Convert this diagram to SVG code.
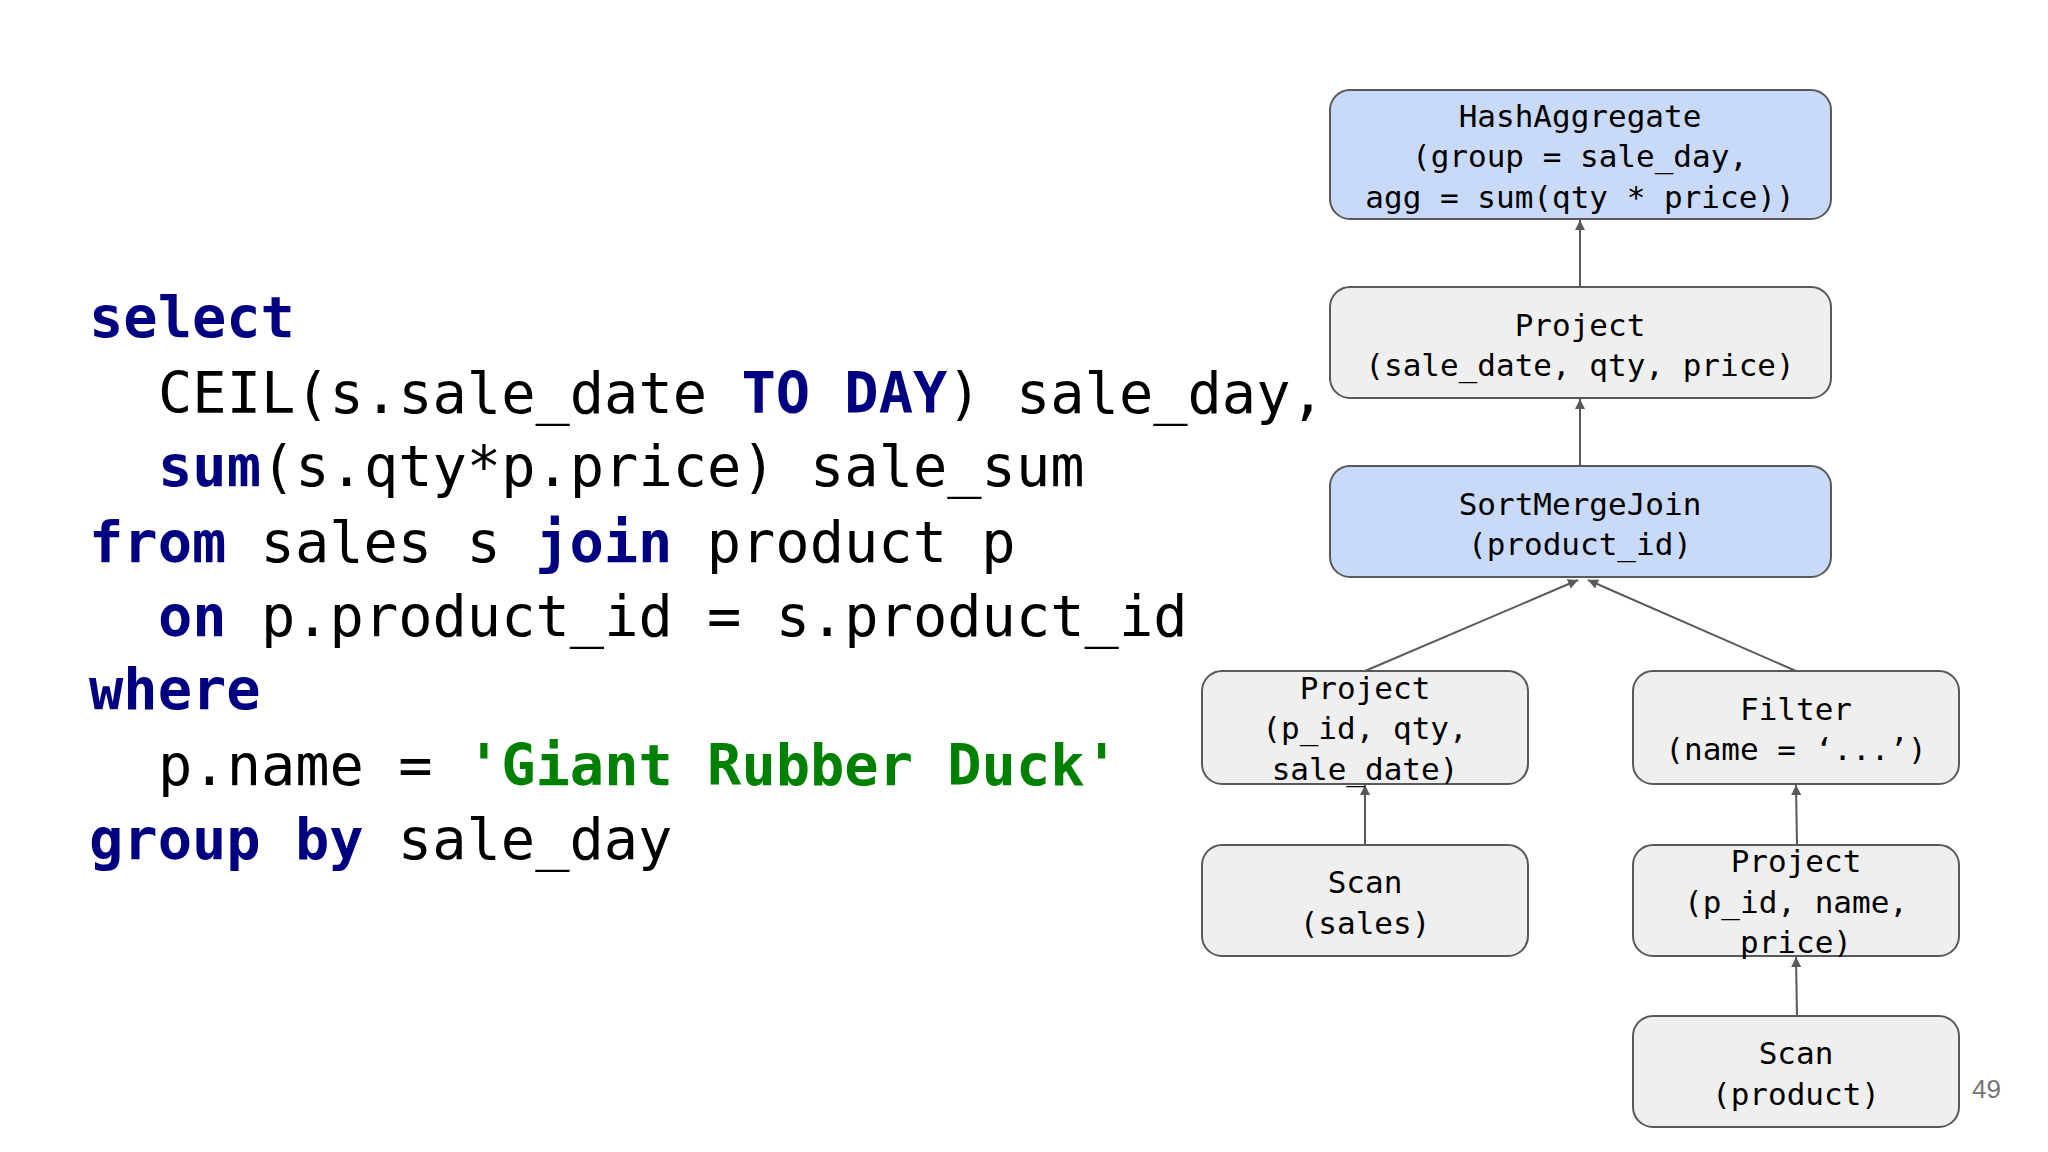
<svg xmlns="http://www.w3.org/2000/svg" width="2048" height="1152" viewBox="0 0 2048 1152">
<style>
.code{font-family:"DejaVu Sans Mono","Liberation Mono",monospace;font-size:57px;fill:#000}
.kw{fill:#000080;font-weight:bold}
.str{fill:#008000;font-weight:bold}
.box{stroke:#595959;stroke-width:2}
.blue{fill:#c9daf8}
.grey{fill:#efefef}
.nt{font-family:"DejaVu Sans Mono","Liberation Mono",monospace;font-size:31px;fill:#000;text-anchor:middle}
.edge{stroke:#595959;stroke-width:2;fill:none;marker-end:url(#ah)}
</style>
<defs><marker id="ah" viewBox="0 0 10 10" refX="10" refY="5" markerWidth="5" markerHeight="5" orient="auto"><path d="M0,0L10,5L0,10z" fill="#595959"/></marker></defs>
<rect width="2048" height="1152" fill="#fff"/>
<g id="code">
<text class="code" x="89" y="337"><tspan class="kw">select</tspan></text>
<text class="code" x="158" y="413" xml:space="preserve">CEIL(s.sale_date <tspan class="kw">TO DAY</tspan>) sale_day,</text>
<text class="code" x="158" y="486"><tspan class="kw">sum</tspan>(s.qty*p.price) sale_sum</text>
<text class="code" x="89" y="562" xml:space="preserve"><tspan class="kw">from</tspan> sales s <tspan class="kw">join</tspan> product p</text>
<text class="code" x="158" y="636" xml:space="preserve"><tspan class="kw">on</tspan> p.product_id = s.product_id</text>
<text class="code" x="89" y="709"><tspan class="kw">where</tspan></text>
<text class="code" x="158" y="785" xml:space="preserve">p.name = <tspan class="str">'Giant Rubber Duck'</tspan></text>
<text class="code" x="89" y="859" xml:space="preserve"><tspan class="kw">group by</tspan> sale_day</text>
</g>
<g id="connectors">
<path class="edge" d="M1580 287V220"/>
<path class="edge" d="M1580 466V399"/>
<path class="edge" d="M1365 671L1578 580"/>
<path class="edge" d="M1796 671L1588 580"/>
<path class="edge" d="M1365 845V785"/>
<path class="edge" d="M1797 845L1796 785"/>
<path class="edge" d="M1797 1016L1796 957"/>
</g>
<g id="hashagg"><rect class="box blue" x="1330" y="90" width="501" height="129" rx="20"/>
<text class="nt" x="1580" y="127">HashAggregate</text><text class="nt" x="1580" y="167">(group = sale_day,</text><text class="nt" x="1580" y="208">agg = sum(qty * price))</text></g>
<g id="project1"><rect class="box grey" x="1330" y="287" width="501" height="111" rx="20"/>
<text class="nt" x="1580" y="336">Project</text><text class="nt" x="1580" y="376">(sale_date, qty, price)</text></g>
<g id="smj"><rect class="box blue" x="1330" y="466" width="501" height="111" rx="20"/>
<text class="nt" x="1580" y="515">SortMergeJoin</text><text class="nt" x="1580" y="555">(product_id)</text></g>
<g id="project2"><rect class="box grey" x="1202" y="671" width="326" height="113" rx="20"/>
<text class="nt" x="1365" y="699">Project</text><text class="nt" x="1365" y="739">(p_id, qty,</text><text class="nt" x="1365" y="780">sale_date)</text></g>
<g id="filter"><rect class="box grey" x="1633" y="671" width="326" height="113" rx="20"/>
<text class="nt" x="1796" y="720">Filter</text><text class="nt" x="1796" y="760">(name = ‘...’)</text></g>
<g id="scansales"><rect class="box grey" x="1202" y="845" width="326" height="111" rx="20"/>
<text class="nt" x="1365" y="893">Scan</text><text class="nt" x="1365" y="934">(sales)</text></g>
<g id="project3"><rect class="box grey" x="1633" y="845" width="326" height="111" rx="20"/>
<text class="nt" x="1796" y="872">Project</text><text class="nt" x="1796" y="913">(p_id, name,</text><text class="nt" x="1796" y="953">price)</text></g>
<g id="scanproduct"><rect class="box grey" x="1633" y="1016" width="326" height="111" rx="20"/>
<text class="nt" x="1796" y="1064">Scan</text><text class="nt" x="1796" y="1105">(product)</text></g>
<text x="1972" y="1098" font-family="Liberation Sans,Arial,sans-serif" font-size="26" fill="#757575">49</text>
</svg>
